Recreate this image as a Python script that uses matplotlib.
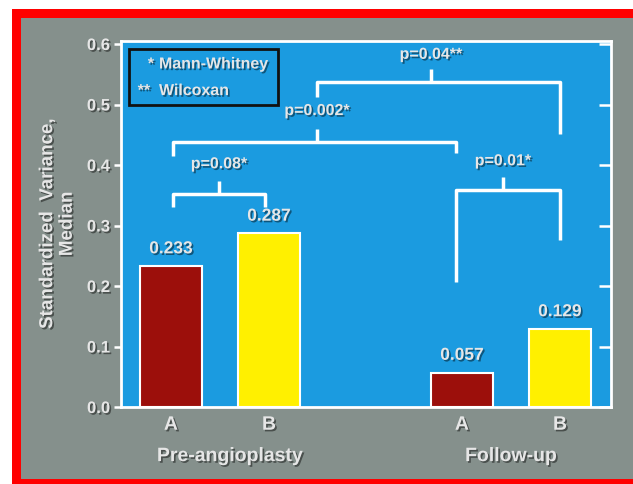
"""
Varianza standardizzata (mediana): pre-angioplastica vs follow-up.
Ricostruzione della slide con cornice rossa e area blu.
"""
import matplotlib
matplotlib.use("Agg")
import matplotlib.pyplot as plt
import matplotlib.patheffects as pe
from matplotlib.patches import Rectangle

plt.rcParams['font.family'] = ['Liberation Sans', 'DejaVu Sans']
plt.rcParams['font.weight'] = 'bold'

# Dati
groups = ["Pre-angioplasty", "Follow-up"]
subgroups = ["A", "B", "A", "B"]
values = [0.233, 0.287, 0.057, 0.129]
value_labels = ["0.233", "0.287", "0.057", "0.129"]
yticks = [0.0, 0.1, 0.2, 0.3, 0.4, 0.5, 0.6]

# Confronti (testo p)
p_labels = ["p=0.08*", "p=0.002*", "p=0.04**", "p=0.01*"]

# Colori
red = "#ff0000"
grey = "#85908c"
blue = "#1b9be0"
bar_colors = ["#9c0f0b", "#fff000", "#9c0f0b", "#fff000"]
txt = "#e6e6e6"

shadow = [pe.SimplePatchShadow(offset=(1.2, -1.2), shadow_rgbFace="k", alpha=0.45), pe.Normal()]

W, H = 633, 485
fig = plt.figure(figsize=(W / 100, H / 100), dpi=100)
fig.patch.set_facecolor("white")

# Cornice rossa e sfondo grigio
fig.patches.append(Rectangle((12 / W, 0), 1, (H - 10) / H, transform=fig.transFigure,
                             facecolor=red, edgecolor="none", zorder=-10))
fig.patches.append(Rectangle((21 / W, 5 / H), 1, (480 - 19) / H, transform=fig.transFigure,
                             facecolor=grey, edgecolor="none", zorder=-9))

ax = fig.add_axes([121 / W, (H - 408) / H, 490 / W, 366 / H])
ax.set_facecolor(blue)

pos = [0.5, 1.48, 3.41, 4.39]
bars = ax.bar(pos, values, width=0.62, color=bar_colors, edgecolor="white", linewidth=1.5, zorder=3)

for b, lab in zip(bars, value_labels):
    ax.annotate(lab, (b.get_x() + b.get_width() / 2, b.get_height()), xytext=(0, 7),
                textcoords="offset points", ha="center", va="bottom", color=txt,
                fontsize=12.5, fontweight="bold", path_effects=shadow)

ax.set_xlim(0, 4.9)
ax.set_ylim(0, 0.605)
ax.set_yticks(yticks, [f"{t:.1f}" for t in yticks])
ax.set_xticks(pos, subgroups)
ax.tick_params(axis="y", direction="out", length=5, width=1.8, color="white",
               labelcolor=txt, labelsize=12, pad=3)
ax.tick_params(axis="x", length=0, labelcolor=txt, labelsize=14, pad=7)
for lab in ax.get_xticklabels() + ax.get_yticklabels():
    lab.set_fontweight("bold")
    lab.set_path_effects(shadow)
# tacche a destra verso l'interno
ax2 = ax.secondary_yaxis("right")
ax2.set_yticks(yticks, [])
ax2.tick_params(direction="in", length=9, width=1.8, color="white")
ax2.spines["right"].set_visible(False)
for s in ax.spines.values():
    s.set_color("white")
    s.set_linewidth(2)

# Etichette dei gruppi
for g, x in zip(groups, [(pos[0] + pos[1]) / 2 + 0.1, (pos[2] + pos[3]) / 2]):
    ax.text(x, -0.082, g, ha="center", va="center", color=txt, fontsize=14,
            fontweight="bold", path_effects=shadow, clip_on=False)

ax.set_ylabel("Standardized  Variance,\nMedian", color=txt, fontsize=13.5, fontweight="bold",
              labelpad=8, path_effects=shadow, linespacing=1.2)


def bracket(x1, x2, y, y1, y2, xc, ytop, label, ylab):
    kw = dict(color="white", lw=2.5, solid_capstyle="butt", zorder=4)
    ax.plot([x1, x1, x2, x2], [y1, y, y, y2], **kw)
    ax.plot([xc, xc], [y, ytop], **kw)
    ax.text(xc, ylab, label, ha="center", va="center", color=txt, fontsize=11.5,
            fontweight="bold", path_effects=shadow, zorder=5)


bracket(0.52, 1.44, 0.352, 0.33, 0.33, 0.98, 0.373, p_labels[0], 0.402)
bracket(0.52, 3.35, 0.438, 0.415, 0.42, 1.96, 0.46, p_labels[1], 0.49)
bracket(1.96, 4.39, 0.537, 0.512, 0.451, 3.10, 0.559, p_labels[2], 0.583)
bracket(3.35, 4.39, 0.359, 0.207, 0.276, 3.82, 0.38, p_labels[3], 0.407)

# Riquadro legenda
ax.add_patch(Rectangle((0.08, 0.499), 1.49, 0.093, facecolor=blue, edgecolor="#111111",
                       linewidth=2, zorder=4))
ax.text(0.30, 0.567, "*", ha="center", va="center", color=txt, fontsize=11.5, path_effects=shadow, zorder=5)
ax.text(0.23, 0.523, "**", ha="center", va="center", color=txt, fontsize=11.5, path_effects=shadow, zorder=5)
ax.text(0.38, 0.567, "Mann-Whitney", ha="left", va="center", color=txt, fontsize=11.5,
        path_effects=shadow, zorder=5)
ax.text(0.38, 0.523, "Wilcoxan", ha="left", va="center", color=txt, fontsize=11.5,
        path_effects=shadow, zorder=5)

fig.savefig("out.png", dpi=100, facecolor=fig.get_facecolor())
